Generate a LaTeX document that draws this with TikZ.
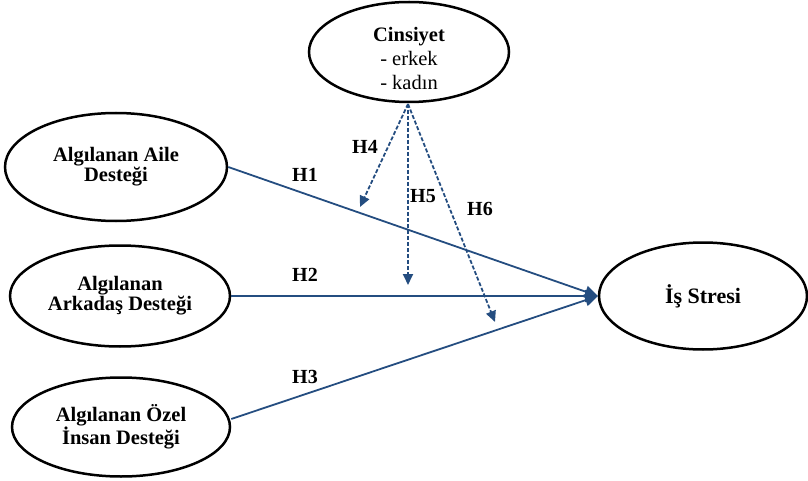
\documentclass[tikz,border=0pt]{standalone}
\usepackage{fontspec}
\setmainfont{Liberation Serif}
\usetikzlibrary{shapes.geometric,arrows.meta}
\definecolor{arrowblue}{RGB}{36,77,128}
\begin{document}
\begin{tikzpicture}[x=1pt,y=-1pt,
  oval/.style={ellipse,draw=black,line width=2.5pt,inner sep=0pt,align=center,
    font=\fontsize{20.5}{20}\selectfont\bfseries},
  plaintext/.style={align=center,inner sep=0pt},
  solidarrow/.style={draw=arrowblue,line width=1.8pt,-{Triangle[length=13pt,width=12pt]}},
  dasharrow/.style={draw=arrowblue,line width=1.8pt,dash pattern=on 4pt off 2pt,
    -{Triangle[length=11pt,width=10pt]}},
  hlabel/.style={font=\fontsize{20}{20}\selectfont\bfseries,inner sep=0pt}]
\useasboundingbox (0,0) rectangle (808,481);
\node[oval,minimum width=200pt,minimum height=100pt] (cins) at (409,52) {};
\node[plaintext,font=\fontsize{20.5}{24}\selectfont] (cinstext) at (409,58)
  {\textbf{Cinsiyet}\\- erkek\\- kadın};
\node[oval,minimum width=222pt,minimum height=108pt] (aile) at (116,167)
  {Algılanan Aile\\Desteği};
\node[oval,minimum width=220pt,minimum height=101pt] (ark) at (120,296)
  {Algılanan\\Arkadaş Desteği};
\node[oval,minimum width=218pt,minimum height=99pt] (ozel) at (121,427)
  {Algılanan Özel\\İnsan Desteği};
\node[oval,minimum width=208pt,minimum height=107pt,
  font=\fontsize{22}{22}\selectfont\bfseries] (is) at (703,296)
  {İş Stresi};
\coordinate (tip) at (598,296);
\draw[solidarrow] (aile.east) -- (tip);
\draw[solidarrow] (ark.east) -- (tip);
\draw[solidarrow] (ozel.east) ++(0,-8) -- (tip);
\coordinate (c4) at (360,207);
\coordinate (c5) at (408,285);
\coordinate (c6) at (495,322);
\coordinate (src) at (408,104);
\draw[dasharrow] (src) -- (c4);
\draw[dasharrow] (src) -- (c5);
\draw[dasharrow] (src) -- (c6);
\node[hlabel] (h1) at (305,175) {H1};
\node[hlabel] (h2) at (305,275) {H2};
\node[hlabel] (h3) at (305,377) {H3};
\node[hlabel] (h4) at (365,147) {H4};
\node[hlabel] (h5) at (423,196) {H5};
\node[hlabel] (h6) at (480,209) {H6};
\end{tikzpicture}
\end{document}
